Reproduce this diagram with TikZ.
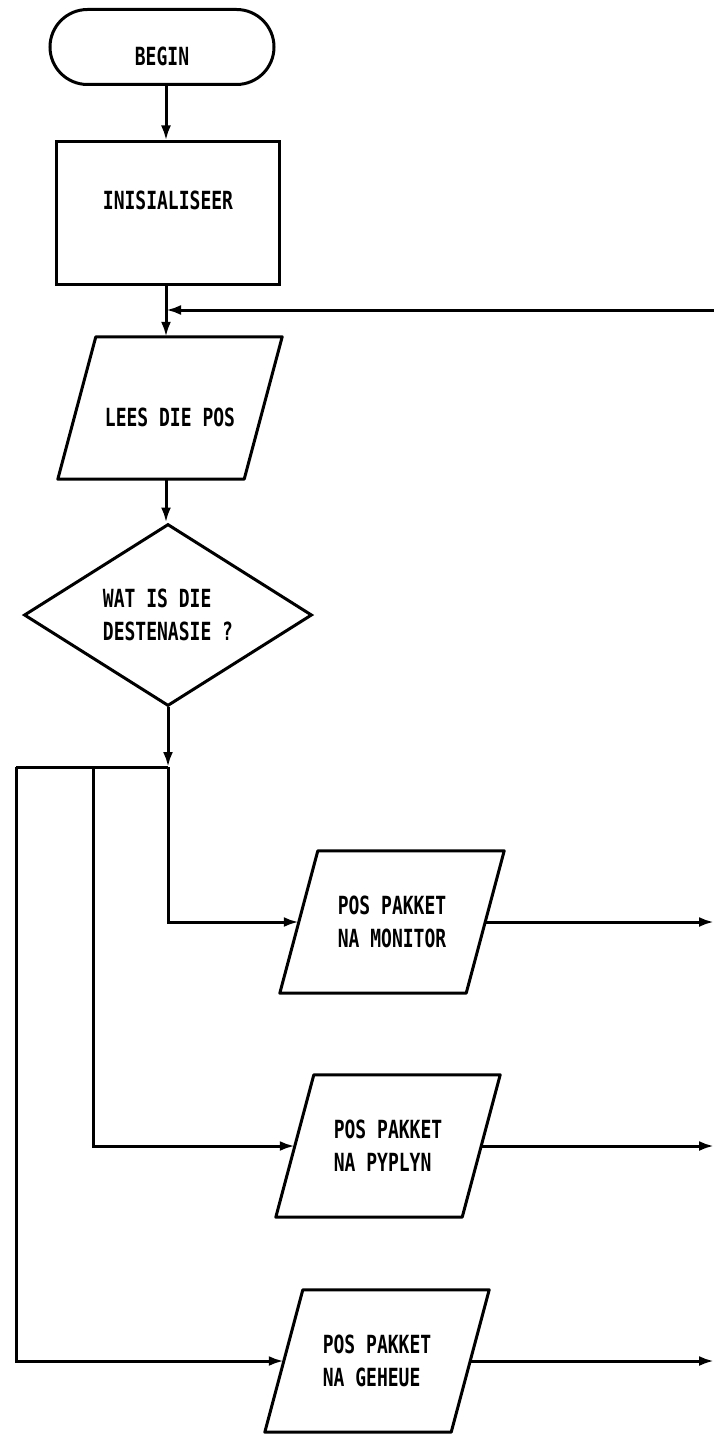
\documentclass[tikz,border=0pt]{standalone}
\usepackage{fontspec}
\newfontfamily\plotfont[FakeStretch=0.72]{DejaVu Sans Mono}
\usetikzlibrary{shapes.geometric, shapes.misc, arrows.meta}

\begin{document}
\begin{tikzpicture}[
  x = 1pt, y = -1pt,
  every node/.style = {font=\plotfont\bfseries\fontsize{25}{33}\selectfont, inner sep=0pt},
  outline/.style = {draw, line width=3pt},
  terminal/.style = {outline, rounded rectangle, minimum width=224pt, minimum height=75pt},
  process/.style = {outline, rectangle, minimum width=223pt, minimum height=142pt},
  % body of the slanted box is its mid-height width, the sides lean 19pt each way
  io/.style = {rectangle, minimum width=186pt, minimum height=142pt, align=left,
    append after command={\pgfextra{\draw[outline, line join=round]
      ([xshift=19pt]\tikzlastnode.north west) -- ([xshift=19pt]\tikzlastnode.north east)
      -- ([xshift=-19pt]\tikzlastnode.south east) -- ([xshift=-19pt]\tikzlastnode.south west)
      -- cycle;}}},
  decision/.style = {outline, diamond, minimum width=288pt, minimum height=166pt, align=left},
  line/.style = {draw, line width=3pt},
  flow/.style = {line, -{Latex[length=15pt, width=10pt]}},
]
\useasboundingbox (0, 0) rectangle (714, 1434);

% text height/depth only nudge the lettering off the middle, as on the plot
\node[terminal, text height=38pt, text depth=0pt] (begin) at (162, 47) {BEGIN};
\node[process, text height=18pt, text depth=26pt] (init) at (168, 213) {INISIALISEER};
\node[io, text height=36pt, text depth=0pt] (lees) at (170, 408) {LEES DIE POS};
\node[decision] (dest)  at (168, 615) {WAT IS DIE\\DESTENASIE ?};
\node[io]       (mon)   at (392, 922)  {POS PAKKET\\NA MONITOR};
\node[io]       (pyp)   at (388, 1146) {POS PAKKET\\NA PYPLYN};
\node[io]       (geh)   at (377, 1361) {POS PAKKET\\NA GEHEUE};

\coordinate (spine) at (166, 0);
\coordinate (edge)  at (714, 0);
\coordinate (back)  at (714, 310);
\coordinate (split) at (168, 767);
\coordinate (fork1) at (93, 767);
\coordinate (fork2) at (16, 767);

% main column, the loop comes back in from the right
\draw[flow] (begin.south -| spine) -- (init.north -| spine);
\draw[flow] (init.south -| spine) -- (lees.north -| spine);
\draw[flow] (back) -- (back -| spine);
\draw[flow] (lees.south -| spine) -- (dest.north -| spine);
\draw[flow] (dest.south) -- (split);
\draw[line] (fork2) -- (split);

\foreach \from/\to in {split/mon, fork1/pyp, fork2/geh}
  \draw[flow] (\from) |- (\to);
\foreach \out in {mon, pyp, geh}
  \draw[flow] (\out) -- (\out -| edge);

\end{tikzpicture}
\end{document}
